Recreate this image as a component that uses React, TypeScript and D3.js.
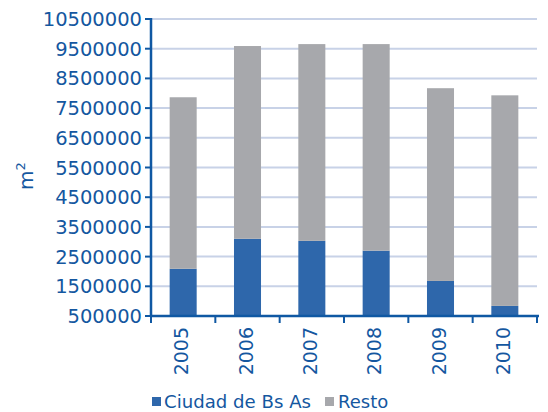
import React from "react";
import * as d3 from "d3";

const years = ["2005", "2006", "2007", "2008", "2009", "2010"];
const ciudad = [2090000, 3100000, 3030000, 2700000, 1680000, 840000];
const resto = [5775000, 6490000, 6625000, 6955000, 6490000, 7090000];
const yTicks = [500000, 1500000, 2500000, 3500000, 4500000, 5500000, 6500000, 7500000, 8500000, 9500000, 10500000];
const seriesNames = ["Ciudad de Bs As", "Resto"];
const colors = ["#2e67ab", "#a7a8ac"];

const W = 548, H = 412;
const left = 151, right = 537, top = 19, bottom = 316;
const axisColor = "#0f58a3";
const textColor = "#1457a0";
const font = "DejaVu Sans";

export default function App() {
  const x = d3.scaleBand<string>().domain(years).range([left, right]).paddingInner(0.58).paddingOuter(0.29);
  const y = d3.scaleLinear().domain([500000, 10500000]).range([bottom, top]);
  const step = (right - left) / years.length;
  const rows = years.map((yr, i) => ({ year: yr, ciudad: ciudad[i], resto: resto[i] }));
  const stack = d3.stack<any>().keys(["ciudad", "resto"])(rows);
  const y0 = y.domain()[0];

  return (
    <svg width={W} height={H} style={{ position: "absolute", left: 0, top: 0 }} fontFamily={font}>
      {yTicks.map((t) => (
        <line key={"g" + t} x1={left} x2={right} y1={y(t)} y2={y(t)} stroke="#c8d2e7" strokeWidth={2} />
      ))}
      {stack.map((s, si) =>
        s.map((d: any, i: number) => {
          const a = Math.max(d[0], y0);
          const b = d[1];
          return (
            <rect key={si + "-" + i} x={x(years[i])} width={x.bandwidth()} y={y(b)} height={y(a) - y(b)} fill={colors[si]} />
          );
        })
      )}
      <line x1={left} x2={left} y1={top - 1} y2={bottom + 1} stroke={axisColor} strokeWidth={2.5} />
      <line x1={left - 1} x2={right + 2} y1={bottom} y2={bottom} stroke={axisColor} strokeWidth={2.5} />
      {yTicks.map((t) => (
        <g key={"t" + t}>
          <line x1={left - 6} x2={left} y1={y(t)} y2={y(t)} stroke={axisColor} strokeWidth={2} />
          <text x={142} y={y(t)} dy="0.36em" textAnchor="end" fontSize={19.5} fill={textColor}>
            {t}
          </text>
        </g>
      ))}
      {d3.range(years.length + 1).map((i) => (
        <line key={"xt" + i} x1={left + i * step} x2={left + i * step} y1={bottom} y2={bottom + 7} stroke={axisColor} strokeWidth={2} />
      ))}
      {years.map((yr) => (
        <text
          key={yr}
          transform={`translate(${(x(yr) as number) + x.bandwidth() / 2 + 5},${327}) rotate(-90)`}
          textAnchor="end"
          fontSize={19}
          fill={textColor}
        >
          {yr}
        </text>
      ))}
      <text transform={`translate(33,${176}) rotate(-90)`} textAnchor="middle" fontSize={20} fill={textColor}>
        m<tspan fontSize={13} dy={-8}>2</tspan>
      </text>
      <rect x={152} y={397} width={9} height={9} fill={colors[0]} />
      <text x={164} y={407.5} fontSize={18} fill={textColor} textLength={147} lengthAdjust="spacingAndGlyphs">{seriesNames[0]}</text>
      <rect x={325} y={397} width={9} height={9} fill={colors[1]} />
      <text x={338} y={407.5} fontSize={18} fill={textColor}>{seriesNames[1]}</text>
    </svg>
  );
}
